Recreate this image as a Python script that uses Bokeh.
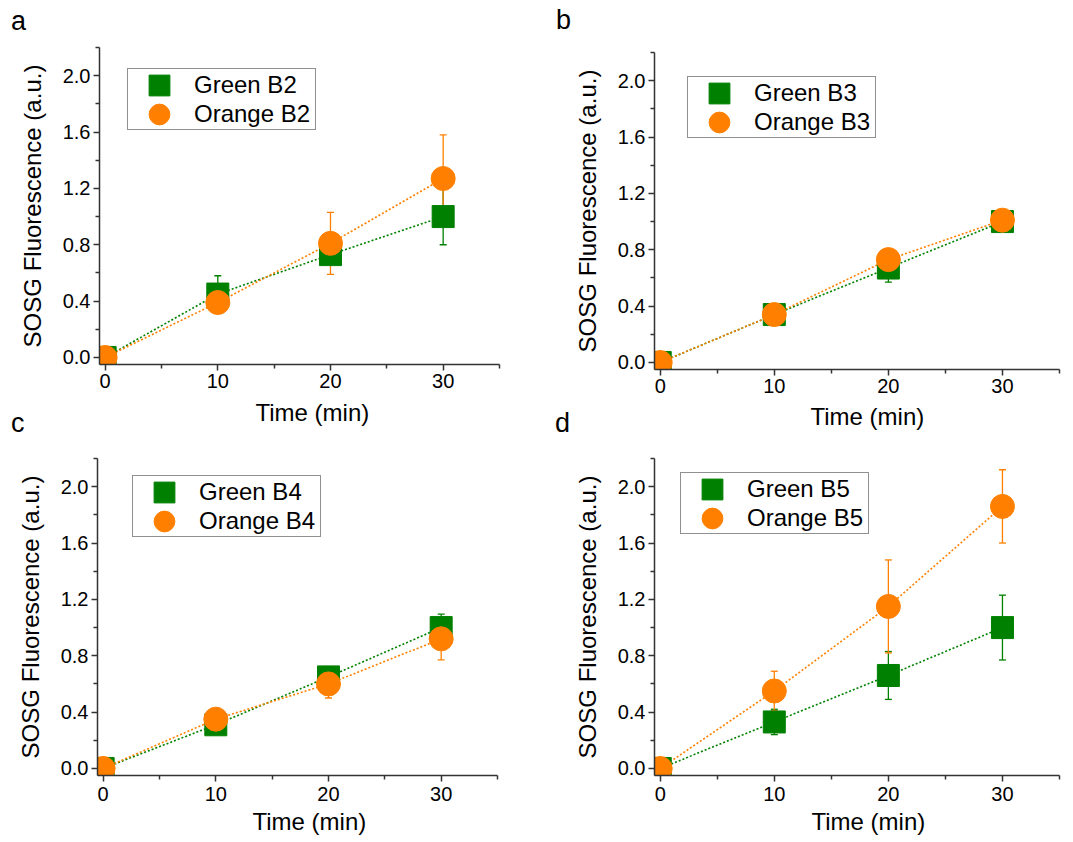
from bokeh.plotting import figure
from bokeh.models import (ColumnDataSource, Whisker, TeeHead, FixedTicker, Title, Plot,
                          PrintfTickFormatter, Legend, LegendItem, Range1d, GridBox, Div)
from bokeh.embed import file_html
from bokeh.resources import INLINE

FONT = "Liberation Sans"
GREEN = "#008000"
ORANGE = "#FF8000"
AXIS = "#333333"

# ---------------- data ----------------
time_min = [0, 10, 20, 30]

b2_green = [0.0, 0.45, 0.73, 1.00]
b2_green_err = [0.0, 0.13, 0.03, 0.20]
b2_orange = [0.0, 0.39, 0.81, 1.27]
b2_orange_err = [0.0, 0.06, 0.22, 0.31]

b3_green = [0.0, 0.34, 0.67, 1.00]
b3_green_err = [0.0, 0.05, 0.10, 0.05]
b3_orange = [0.0, 0.34, 0.73, 1.01]
b3_orange_err = [0.0, 0.06, 0.06, 0.06]

b4_green = [0.0, 0.31, 0.65, 1.00]
b4_green_err = [0.0, 0.05, 0.05, 0.095]
b4_orange = [0.0, 0.35, 0.60, 0.92]
b4_orange_err = [0.0, 0.05, 0.10, 0.15]

b5_green = [0.0, 0.33, 0.66, 1.00]
b5_green_err = [0.0, 0.09, 0.17, 0.23]
b5_orange = [0.0, 0.55, 1.15, 1.86]
b5_orange_err = [0.0, 0.14, 0.33, 0.26]

x_major = [0, 10, 20, 30]
x_minor = [5, 15, 25, 35]
y_major = [0.0, 0.4, 0.8, 1.2, 1.6, 2.0]
y_minor = [0.2, 0.6, 1.0, 1.4, 1.8, 2.2]

x_title = "Time (min)"
y_title = "SOSG Fluorescence (a.u.)"
panel_letters = ["a", "b", "c", "d"]

EXTRA = {}
if "frame_align" in Plot.properties():
    EXTRA["frame_align"] = False


def add_err(p, xs, ys, es, color):
    keep = [i for i, e in enumerate(es) if e > 0]
    src = ColumnDataSource(dict(
        x=[xs[i] for i in keep],
        upper=[ys[i] + es[i] for i in keep],
        lower=[ys[i] - es[i] for i in keep],
    ))
    w = Whisker(source=src, base="x", upper="upper", lower="lower",
                line_color=color, line_width=1.3,
                upper_head=TeeHead(size=7, line_color=color, line_width=1.3),
                lower_head=TeeHead(size=7, line_color=color, line_width=1.3))
    p.add_layout(w)


def make_panel(name, green, green_err, orange, orange_err, geom):
    W, H, bl, bt, br, bb = geom["fig"]
    p = figure(width=W, height=H, x_range=Range1d(-0.5, 35), y_range=Range1d(-0.05, 2.2),
               output_backend="svg", toolbar_location=None,
               min_border_left=bl, min_border_top=bt, min_border_right=br,
               min_border_bottom=bb, **EXTRA)
    p.grid.visible = False
    p.outline_line_color = None
    p.background_fill_color = "white"
    p.border_fill_color = "white"

    p.xaxis.ticker = FixedTicker(ticks=x_major, minor_ticks=x_minor)
    p.yaxis.ticker = FixedTicker(ticks=y_major, minor_ticks=y_minor)
    p.yaxis.formatter = PrintfTickFormatter(format="%.1f")
    p.yaxis.axis_label = y_title
    p.yaxis.axis_label_standoff = 14
    for ax in (p.xaxis, p.yaxis):
        ax.axis_line_color = AXIS
        ax.axis_line_width = 1.5
        ax.major_tick_line_color = AXIS
        ax.major_tick_line_width = 1.5
        ax.major_tick_out = 6
        ax.major_tick_in = 0
        ax.minor_tick_line_color = AXIS
        ax.minor_tick_line_width = 1.5
        ax.minor_tick_out = 4
        ax.minor_tick_in = 0
        ax.major_label_text_font = FONT
        ax.major_label_text_font_size = "20px"
        ax.major_label_text_color = "black"
        ax.major_label_standoff = 3
        ax.axis_label_text_font = FONT
        ax.axis_label_text_font_size = "24px"
        ax.axis_label_text_font_style = "normal"
        ax.axis_label_text_color = "black"
    p.xaxis.major_label_standoff = geom["xls"]

    # x-axis title, placed under the axis (offset from the frame's left edge)
    p.add_layout(Title(text=x_title, align="left", offset=geom["xt"][0],
                       vertical_align="top", standoff=geom["xt"][1],
                       text_font=FONT, text_font_size="24px", text_font_style="normal",
                       text_color="black"), "below")

    p.line(time_min, green, line_color=GREEN, line_dash="2 2", line_width=1.6)
    p.line(time_min, orange, line_color=ORANGE, line_dash="2 2", line_width=1.6)
    rg = p.rect(time_min, green, width=22, height=22, width_units="screen",
                height_units="screen", fill_color=GREEN, line_color=GREEN)
    ro = p.ellipse(time_min, orange, width=24, height=24, width_units="screen",
                   height_units="screen", fill_color=ORANGE, line_color=ORANGE)
    add_err(p, time_min, green, green_err, GREEN)
    add_err(p, time_min, orange, orange_err, ORANGE)

    lx, ly = geom["legend"]
    legend = Legend(items=[LegendItem(label="Green " + name, renderers=[rg]),
                           LegendItem(label="Orange " + name, renderers=[ro])],
                    location=(lx, ly), padding=dict(left=18, right=5, top=2, bottom=1),
                    spacing=1, glyph_width=26, glyph_height=26, label_standoff=22,
                    label_text_font=FONT, label_text_font_size="24px",
                    label_text_color="black",
                    border_line_color="#222222", border_line_width=1.3,
                    background_fill_color="white", background_fill_alpha=1.0, margin=0)
    p.add_layout(legend)
    return p


def letter(txt, left, top):
    html = ('<div style="font-family:\'Liberation Sans\',Arial,sans-serif;'
            'font-size:27px;line-height:27px;color:black;">%s</div>' % txt)
    return Div(text=html, width=24, height=28, margin=(top, 0, 0, left))


geoms = {
    "a": dict(fig=(540, 440, 99, 47, 41, 76), legend=(28, 234), xt=(156, 17), xls=3),
    "b": dict(fig=(533, 440, 114, 52, 14, 71), legend=(33, 231), xt=(156, 15), xls=3),
    "c": dict(fig=(540, 402, 97, 18, 43, 67), legend=(35, 238), xt=(155, 9), xls=5),
    "d": dict(fig=(533, 402, 114, 18, 14, 67), legend=(26, 241), xt=(157, 9), xls=5),
}

pa = make_panel("B2", b2_green, b2_green_err, b2_orange, b2_orange_err, geoms["a"])
pb = make_panel("B3", b3_green, b3_green_err, b3_orange, b3_orange_err, geoms["b"])
pc = make_panel("B4", b4_green, b4_green_err, b4_orange, b4_orange_err, geoms["c"])
pd = make_panel("B5", b5_green, b5_green_err, b5_orange, b5_orange_err, geoms["d"])

la = letter(panel_letters[0], 11, 8)
lb = letter(panel_letters[1], 16, 7)
lc = letter(panel_letters[2], 11, 410)
ld = letter(panel_letters[3], 15, 410)

grid = GridBox(children=[(pa, 0, 0), (pb, 0, 1), (pc, 1, 0), (pd, 1, 1),
                         (la, 0, 0), (lb, 0, 1), (lc, 0, 0, 2, 1), (ld, 0, 1, 2, 1)],
               rows=["440px", "402px"], cols=["540px", "533px"])

with open("out.html", "w") as f:
    f.write(file_html(grid, INLINE))
